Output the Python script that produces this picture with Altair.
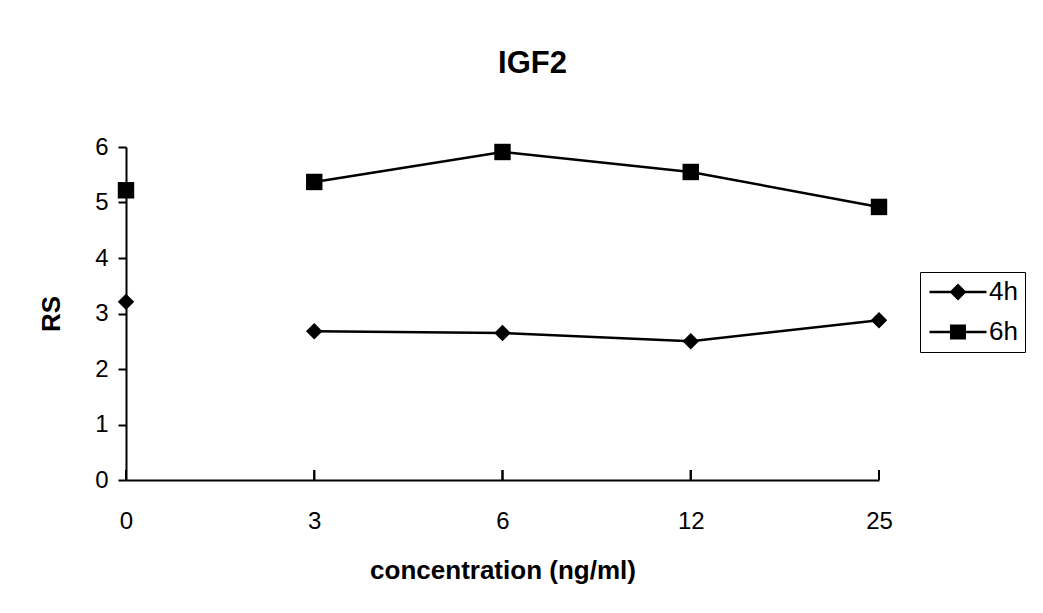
import altair as alt
import pandas as pd

concentrations = ["0", "3", "6", "12", "25"]
series = ["4h", "6h"]
rs_4h = [3.21, 2.68, 2.65, 2.50, 2.88]
rs_6h = [5.22, 5.37, 5.91, 5.55, 4.92]
y_ticks = [0, 1, 2, 3, 4, 5, 6]

rows = []
for s, vals in zip(series, [rs_4h, rs_6h]):
    for c, v in zip(concentrations, vals):
        rows.append({"series": s, "conc": c, "RS": v,
                     "segment": "a" if c == "0" else "b"})
df = pd.DataFrame(rows)

FONT = "Liberation Sans"
W, H = 753, 333

x_enc = alt.X("conc:O", sort=concentrations,
              scale=alt.Scale(type="point", padding=0),
              axis=alt.Axis(title="concentration (ng/ml)", labelAngle=0,
                            ticks=False, tickSize=0, labelPadding=29,
                            titlePadding=24, domainColor="black",
                            domainWidth=2))
y_enc = alt.Y("RS:Q", scale=alt.Scale(domain=[0, 6], nice=False, zero=True),
              axis=alt.Axis(title="RS", values=y_ticks, grid=False,
                            tickSize=8, tickColor="black", tickWidth=2,
                            labelPadding=10, titlePadding=30,
                            domainColor="black", domainWidth=2))

lines = alt.Chart(df).mark_line(color="black", strokeWidth=2.5).encode(
    x=x_enc, y=y_enc, detail=["series:N", "segment:N"])

points = alt.Chart(df).mark_point(filled=True, color="black", opacity=1).encode(
    x=x_enc, y=y_enc,
    shape=alt.Shape("series:N",
                    scale=alt.Scale(domain=series, range=["diamond", "square"]),
                    legend=None),
    size=alt.value(270))

xticks = alt.Chart(df).mark_rule(color="black", strokeWidth=2).encode(
    x=x_enc, y=alt.value(H - 10), y2=alt.value(H))

# legend glyphs: line stub drawn as a thin filled bar plus the marker
path_4h = "M-2.85,-0.12H2.85V0.12H-2.85ZM-0.85,0L0,-0.85L0.85,0L0,0.85Z"
path_6h = "M-2.85,-0.12H2.85V0.12H-2.85ZM-0.8,-0.75H0.8V0.75H-0.8Z"

legend_layer = alt.Chart(df).mark_point(
    filled=True, fill="black", opacity=1
).encode(
    x=x_enc, y=y_enc,
    shape=alt.Shape("series:N",
                    scale=alt.Scale(domain=series, range=[path_4h, path_6h]),
                    legend=alt.Legend(title=None, orient="none",
                                      legendX=794, legendY=125,
                                      strokeColor="black", fillColor="white",
                                      padding=7, labelFontSize=26,
                                      labelFont=FONT, labelColor="black",
                                      symbolOffset=18, labelOffset=18,
                                      rowPadding=14,
                                      symbolSize=400,
                                      symbolOpacity=1,
                                      symbolFillColor="black")),
    size=alt.value(400)).transform_filter("false")

chart = alt.layer(lines, points, xticks, legend_layer).resolve_scale(
    shape="independent"
).properties(
    width=W, height=H,
    title=alt.TitleParams("IGF2", fontSize=31, font=FONT, fontWeight="bold",
                          color="black", anchor="middle", frame="group",
                          dx=30, offset=31, baseline="alphabetic"),
    autosize=alt.AutoSizeParams(type="none"),
    padding={"left": 118, "top": 139, "right": 150, "bottom": 120},
).configure(background="white").configure_view(stroke=None).configure_axis(
    labelFont=FONT, labelFontSize=24, labelColor="black",
    titleFont=FONT, titleFontSize=26, titleFontWeight="bold",
    titleColor="black"
)

chart.save("out.html", embed_options={"renderer": "svg", "actions": False})
